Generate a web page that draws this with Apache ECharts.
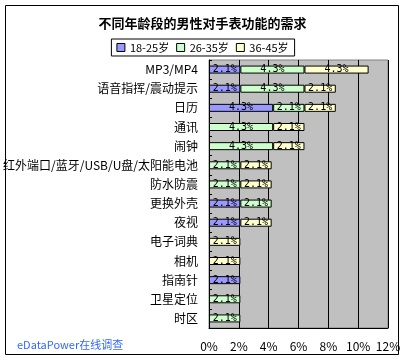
<!DOCTYPE html>
<html><head><meta charset="utf-8">
<script src="https://cdn.jsdelivr.net/npm/echarts@6/dist/echarts.min.js"></script>
<style>html,body{margin:0;padding:0;background:#fff}#c{width:405px;height:361px}</style>
</head><body><div id="c"></div>
<script>
const categories = ['MP3/MP4','语音指挥/震动提示','日历','通讯','闹钟','红外端口/蓝牙/USB/U盘/太阳能电池','防水防震','更换外壳','夜视','电子词典','相机','指南针','卫星定位','时区'];
const age18_25 = [2.1, 2.1, 4.3, null, null, null, null, 2.1, 2.1, null, null, 2.1, null, null];
const age26_35 = [4.3, 4.3, 2.1, 4.3, 4.3, 2.1, 2.1, 2.1, null, null, null, null, 2.1, 2.1];
const age36_45 = [4.3, 2.1, 2.1, 2.1, 2.1, 2.1, 2.1, null, 2.1, 2.1, 2.1, null, null, null];
const seriesNames = ['18-25岁','26-35岁','36-45岁'];
const xTicks = [0, 2, 4, 6, 8, 10, 12];

const font = '"Noto Sans CJK SC", sans-serif';
const colors = ['#9999FF','#CCFFCC','#FFFFCC'];
const chart = echarts.init(document.getElementById('c'), null, {renderer:'canvas'});
function mk(name, data, i){
  return {
    name, type:'bar', stack:'s', data, barWidth:8,
    itemStyle:{color:colors[i], borderColor:'#000', borderWidth:1},
    label:{show:true, position:'inside', formatter:p=>p.value==null?'':p.value.toFixed(1)+'%', fontSize:10, color:'#000', fontFamily:'"DejaVu Sans Mono", monospace'},
    emphasis:{disabled:true}, animation:false
  };
}
chart.setOption({
  animation:false,
  title:{text:'不同年龄段的男性对手表功能的需求', left:'center', top:12, textStyle:{fontSize:13, fontWeight:'bold', color:'#000', fontFamily:font}},
  legend:{data:seriesNames, top:39, left:'center', padding:[3,6,3,5], borderColor:'#000', borderWidth:1, itemWidth:8, itemHeight:8, itemGap:7, icon:'rect',
    itemStyle:{borderColor:'#000', borderWidth:1},
    textStyle:{fontSize:11, color:'#000', fontFamily:font}},
  grid:{left:209, right:17, top:60, bottom:33, show:true, backgroundColor:'#C0C0C0', borderColor:'#808080', borderWidth:1},
  xAxis:{type:'value', min:xTicks[0], max:xTicks[xTicks.length-1], interval:2,
    axisLine:{show:true, lineStyle:{color:'#000'}}, axisTick:{show:false},
    splitLine:{show:true, lineStyle:{color:'#000', width:1}},
    axisLabel:{formatter:'{value}%', fontSize:12, color:'#000', margin:12, fontFamily:font}},
  yAxis:{type:'category', data:categories, inverse:true,
    axisLine:{show:true, lineStyle:{color:'#000'}}, axisTick:{show:true, inside:true, length:3, lineStyle:{color:'#000'}},
    axisLabel:{fontSize:12, color:'#000', margin:11, fontFamily:font, interval:0}},
  series:[mk(seriesNames[0],age18_25,0), mk(seriesNames[1],age26_35,1), mk(seriesNames[2],age36_45,2)],
  graphic:[
    {type:'rect', shape:{x:5.5, y:5.5, width:393, height:349}, style:{fill:null, stroke:'#000', lineWidth:1}, silent:true},
    {type:'text', left:17, top:339, style:{text:'eDataPower在线调查', fill:'#3366FF', fontSize:11, fontFamily:font}}
  ]
});
</script></body></html>
